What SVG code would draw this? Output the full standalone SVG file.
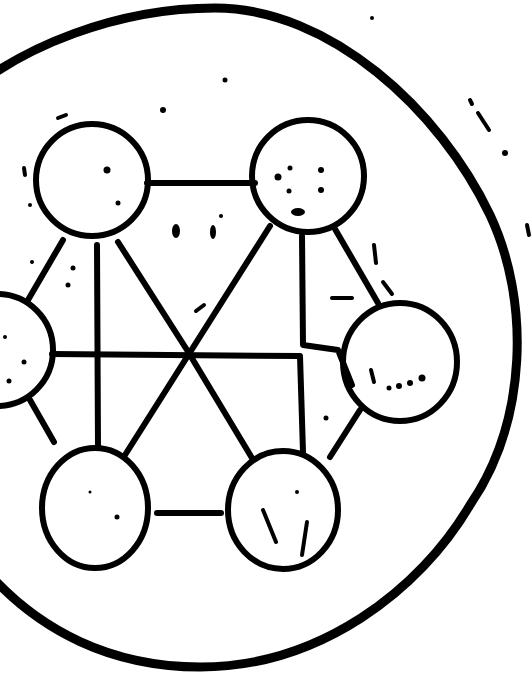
<svg xmlns="http://www.w3.org/2000/svg" width="532" height="673" viewBox="0 0 532 673">
<style>
.n{fill:none;stroke:#000;stroke-width:6}
.e{fill:none;stroke:#000;stroke-width:6;stroke-linecap:round;stroke-linejoin:round}
.b{fill:none;stroke:#000;stroke-width:9;stroke-linecap:round}
.s{fill:#000}
.d{fill:none;stroke:#000;stroke-width:4;stroke-linecap:round}
</style>
<rect width="532" height="673" fill="#fff"/>
<g id="boundary">
<path class="b" d="M -40,100 C 20,45 120,8 215,8 C 330,8 440,110 490,215 C 530,300 528,420 470,505 C 420,590 320,667 200,667 C 110,667 40,630 -10,575"/>
</g>
<g id="connectors">
<line class="e" x1="147" y1="183" x2="255" y2="183" stroke-width="8"/>
<line class="e" x1="63" y1="240" x2="28" y2="300"/>
<line class="e" x1="97" y1="245" x2="98" y2="448"/>
<polyline class="e" points="118,242 187,350 252,458"/>
<line class="e" x1="270" y1="226" x2="125" y2="455"/>
<polyline class="e" points="52,354 300,356 303,452"/>
<polyline class="e" points="302,236 303,345 338,350 352,385"/>
<line class="e" x1="335" y1="229" x2="378" y2="303"/>
<line class="e" x1="360" y1="410" x2="330" y2="457"/>
<line class="e" x1="30" y1="400" x2="54" y2="442"/>
<line class="e" x1="157" y1="513" x2="221" y2="513" stroke-width="9"/>
</g>
<g id="node-tl"><circle class="n" cx="92" cy="180" r="56"/></g>
<g id="node-tr"><circle class="n" cx="308" cy="176" r="56"/></g>
<g id="node-l"><circle class="n" cx="-3" cy="350" r="56"/></g>
<g id="node-r"><ellipse class="n" cx="400" cy="362" rx="57" ry="59"/></g>
<g id="node-bl"><ellipse class="n" cx="95" cy="508" rx="53" ry="60"/></g>
<g id="node-br"><ellipse class="n" cx="283" cy="510" rx="55" ry="59"/>
<line class="d" x1="263" y1="510" x2="276" y2="542"/>
<line class="d" x1="307" y1="522" x2="302" y2="555"/>
</g>
<g id="speckles">
<circle class="s" cx="107" cy="170" r="3.5"/>
<circle class="s" cx="118" cy="203" r="2.5"/>
<circle class="s" cx="225" cy="80" r="2.5"/>
<circle class="s" cx="163" cy="110" r="3"/>
<circle class="s" cx="372" cy="18" r="2"/>
<ellipse class="s" cx="176" cy="231" rx="4" ry="7"/>
<ellipse class="s" cx="213" cy="232" rx="3" ry="7"/>
<circle class="s" cx="221" cy="216" r="2"/>
<line class="d" x1="196" y1="311" x2="204" y2="305"/>
<line class="d" x1="58" y1="118" x2="66" y2="115"/>
<line class="d" x1="24" y1="168" x2="25" y2="175"/>
<circle class="s" cx="30" cy="205" r="2"/>
<circle class="s" cx="32" cy="262" r="2"/>
<circle class="s" cx="73" cy="268" r="2.5"/>
<circle class="s" cx="68" cy="285" r="2.5"/>
<circle class="s" cx="278" cy="177" r="3.5"/>
<circle class="s" cx="290" cy="168" r="2.5"/>
<circle class="s" cx="289" cy="191" r="2.5"/>
<circle class="s" cx="321" cy="170" r="3"/>
<circle class="s" cx="321" cy="190" r="3"/>
<ellipse class="s" cx="298" cy="212" rx="7" ry="4"/>
<line class="d" x1="374" y1="245" x2="376" y2="263"/>
<line class="d" x1="383" y1="282" x2="392" y2="294"/>
<line class="d" x1="332" y1="298" x2="352" y2="298" stroke-width="5"/>
<line class="d" x1="478" y1="113" x2="489" y2="130"/>
<line class="d" x1="470" y1="100" x2="472" y2="104"/>
<circle class="s" cx="505" cy="153" r="3"/>
<line class="d" x1="527" y1="225" x2="529" y2="235"/>
<line class="d" x1="371" y1="370" x2="374" y2="382"/>
<circle class="s" cx="389" cy="388" r="2.5"/>
<circle class="s" cx="399" cy="386" r="3"/>
<circle class="s" cx="410" cy="383" r="3"/>
<circle class="s" cx="422" cy="378" r="3.5"/>
<circle class="s" cx="5" cy="337" r="2"/>
<circle class="s" cx="24" cy="362" r="2.5"/>
<circle class="s" cx="9" cy="381" r="2.5"/>
<circle class="s" cx="90" cy="492" r="1.5"/>
<circle class="s" cx="117" cy="517" r="2.5"/>
<circle class="s" cx="326" cy="418" r="2.5"/>
<circle class="s" cx="297" cy="492" r="2"/>
</g>
</svg>
